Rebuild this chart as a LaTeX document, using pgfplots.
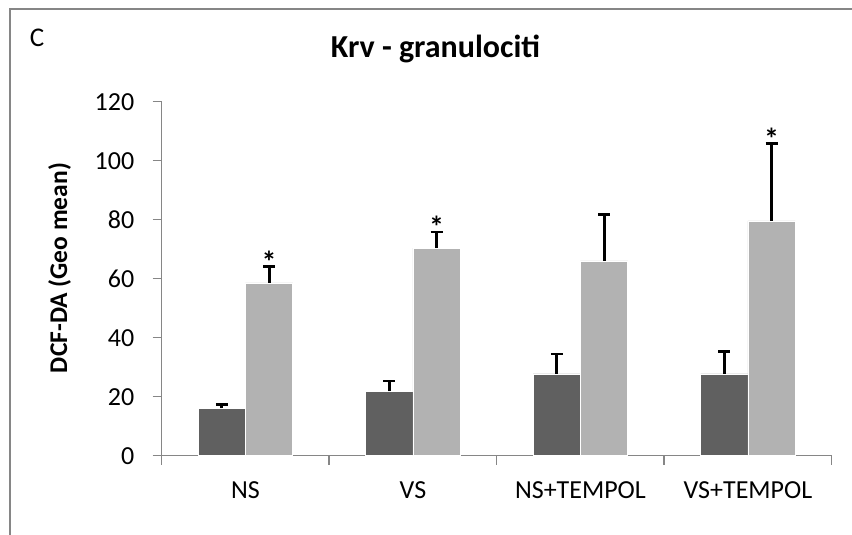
\documentclass[border=0pt]{standalone}
\usepackage{fontspec}
\setmainfont{Carlito}
\usepackage{pgfplots}
\usepackage{pgfplotstable}
\pgfplotsset{compat=1.18}
\definecolor{darkbar}{HTML}{606060}
\definecolor{lightbar}{HTML}{B2B2B2}
\definecolor{axgray}{HTML}{868686}
% x = category index -/+ half a bar (bars of 47.3bp in groups 167.5bp apart)
\pgfplotstableread{
x y e
-0.1412 16.0 1.3
0.8588 21.8 3.5
1.8588 27.7 6.8
2.8588 27.7 7.6
}\darkdata
\pgfplotstableread{
x y e
0.1412 58.6 5.5
1.1412 70.4 5.4
2.1412 66.0 15.7
3.1412 79.6 26.1
}\lightdata
\begin{document}
\begin{tikzpicture}[x=1bp,y=1bp]
\useasboundingbox (0,0) rectangle (852,535);
\draw[axgray, line width=2bp] (9.5,-2) -- (9.5,525.5) -- (854,525.5);
\node[font=\fontsize{27bp}{32bp}\selectfont] at (37,497) {C};
\node[font=\bfseries\fontsize{32bp}{38bp}\selectfont] at (435.5,486) {Krv - granulociti};
\node[font=\bfseries\fontsize{25.5bp}{30bp}\selectfont, rotate=90] at (59.5,267) {DCF-DA (Geo mean)};
\begin{axis}[
  at={(161.7bp,79.3bp)}, anchor=south west,
  scale only axis, width=670bp, height=354bp,
  xmin=-0.5, xmax=3.5, ymin=0, ymax=120,
  axis x line*=bottom, axis y line*=left,
  axis line style={axgray, line width=1.5bp},
  xtick={0,1,2,3}, xticklabels={NS,VS,NS+TEMPOL,VS+TEMPOL},
  minor xtick={-0.5,0.5,1.5,2.5,3.5},
  ytick={0,20,...,120},
  tick align=outside, major tick length=9bp, minor tick length=9bp,
  y tick style={axgray, line width=1.5bp},
  minor x tick style={axgray, line width=1.5bp},
  major x tick style={draw=none},
  tick label style={font=\fontsize{26bp}{31bp}\selectfont},
  yticklabel style={xshift=-15bp},
  xticklabel style={yshift=-13bp},
  /pgf/number format/assume math mode=true,
  clip=false,
]
\addplot[ybar, bar width=47.3bp, bar shift=0pt, fill=darkbar, draw=white, line width=0.6bp,
  error bars/.cd, y dir=plus, y explicit,
  error bar style={black, line width=2.8bp},
  error mark options={rotate=90, black, mark size=6bp, line width=2.8bp}]
  table[x=x, y=y, y error=e] {\darkdata};
\addplot[ybar, bar width=47.3bp, bar shift=0pt, fill=lightbar, draw=white, line width=0.6bp,
  error bars/.cd, y dir=plus, y explicit,
  error bar style={black, line width=2.8bp},
  error mark options={rotate=90, black, mark size=6bp, line width=2.8bp}]
  table[x=x, y=y, y error=e] {\lightdata};
\addplot[only marks, mark=none, nodes near coords, point meta=explicit symbolic,
  every node near coord/.append style={anchor=center, yshift=5bp, font=\bfseries\fontsize{30bp}{34bp}\selectfont, black}]
  coordinates {(0.1412,64.1) [*] (1.1412,75.8) [*] (3.1412,105.7) [*]};
\end{axis}
\end{tikzpicture}
\end{document}
